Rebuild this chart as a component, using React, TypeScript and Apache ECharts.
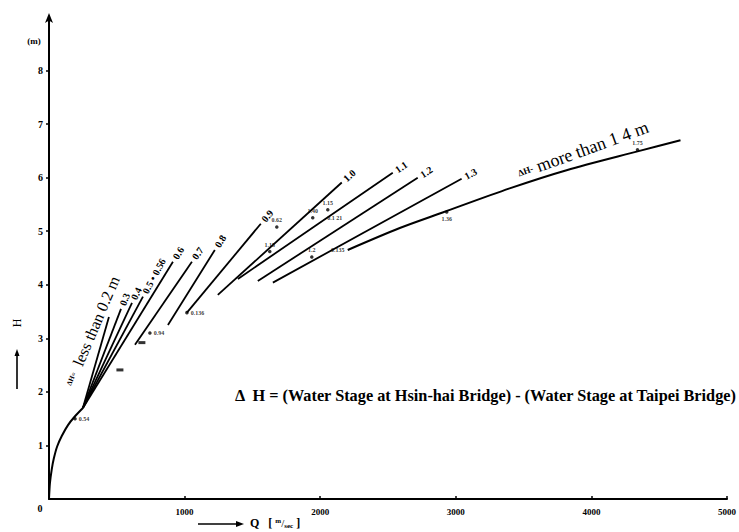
import React, { useEffect, useRef } from 'react';
import * as echarts from 'echarts';

// Stage–discharge rating: base curve below the junction, then one line per stage difference ΔH.
const mainQ = [0, 7, 20, 35, 60, 95, 140, 190, 250];
const mainH = [0, 0.3, 0.55, 0.75, 0.98, 1.18, 1.38, 1.54, 1.7];

const fanLabels = ['', '0.3', '0.4', '0.5 • 0.56', '0.6', '0.7', '0.8', '0.9', '1.0', '1.1', '1.2', '1.3'];
const fanStartQ = [250, 250, 250, 250, 250, 634, 877, 1017, 1245, 1393, 1540, 1651];
const fanStartH = [1.7, 1.7, 1.7, 1.7, 1.7, 2.88, 3.25, 3.48, 3.81, 4.11, 4.07, 4.04];
const fanEndQ = [442, 531, 612, 693, 914, 1054, 1223, 1562, 2159, 2535, 2719, 3043];
const fanEndH = [3.4, 3.55, 3.66, 3.78, 4.43, 4.43, 4.65, 5.14, 5.91, 6.09, 6.0, 5.98];

// ΔH more than 1.4 m
const upperQ = [2203, 2587, 2903, 3397, 3817, 4355, 4657];
const upperH = [4.65, 5.06, 5.35, 5.8, 6.14, 6.5, 6.7];

// Observed points with their ΔH notes
const obsQ = [192, 744, 1017, 1680, 1628, 1945, 2056, 1938, 2933, 4340];
const obsH = [1.5, 3.1, 3.48, 5.08, 4.62, 5.25, 5.4, 4.52, 5.36, 6.52];
const obsText = ['0.54', '0.94', '0.136', '0.62', '1.15', '1.40', '1.15', '1.2', '1.36', '1.75'];

// Notes without their own marker
const noteQ = [2108, 2130];
const noteH = [5.24, 4.65];
const noteText = ['0.1 21', '0.135'];

// Short dash marks on the fan
const dashQ = [523, 685];
const dashH = [2.41, 2.92];

const xTickValues = [1000, 2000, 3000, 4000, 5000];
const yTickValues = [1, 2, 3, 4, 5, 6, 7, 8];

const SERIF = '"Liberation Serif", "DejaVu Serif", serif';
const obsLabelPlace = ['right', 'right', 'right', 'top', 'top', 'top', 'top', 'top', 'bottom', 'top'];

export default function App() {
  const ref = useRef<HTMLDivElement>(null);

  useEffect(() => {
    document.body.style.margin = '0';
    const chart = echarts.init(ref.current!, null, { renderer: 'svg' });

    const tiny = { fontSize: 6, fontWeight: 'bold', fontFamily: SERIF, color: '#000' };
    const lineStyle = { color: '#000', width: 1.8 };
    const series: any[] = [
      {
        type: 'line',
        data: mainQ.map((q, i) => [q, mainH[i]]),
        smooth: 0.3,
        symbol: 'none',
        lineStyle: { color: '#000', width: 2 },
      },
      ...fanStartQ.map((q, i) => ({
        type: 'line',
        data: [
          [q, fanStartH[i]],
          [fanEndQ[i], fanEndH[i]],
        ],
        symbol: 'none',
        lineStyle,
      })),
      {
        type: 'line',
        data: upperQ.map((q, i) => [q, upperH[i]]),
        smooth: 0.3,
        symbol: 'none',
        lineStyle: { color: '#000', width: 2 },
      },
      {
        type: 'scatter',
        data: obsQ.map((q, i) => ({
          value: [q, obsH[i]],
          name: obsText[i],
          label: { position: obsLabelPlace[i] },
        })),
        symbol: 'circle',
        symbolSize: 3.5,
        itemStyle: { color: '#000' },
        label: { show: true, formatter: (p: any) => p.name, distance: 2, ...tiny },
      },
      {
        type: 'scatter',
        data: noteQ.map((q, i) => ({ value: [q, noteH[i]], name: noteText[i] })),
        symbolSize: 0,
        label: { show: true, formatter: (p: any) => p.name, position: 'inside', ...tiny },
      },
      {
        type: 'scatter',
        data: dashQ.map((q, i) => [q, dashH[i]]),
        symbol: 'rect',
        symbolSize: [7, 3],
        itemStyle: { color: '#000' },
      },
    ];

    chart.setOption({
      animation: false,
      backgroundColor: '#fff',
      grid: { left: 49, right: 11, top: 17, bottom: 33, containLabel: false },
      xAxis: {
        type: 'value',
        min: 0,
        max: 5000,
        interval: 1000,
        axisLine: { lineStyle: { color: '#000', width: 2 } },
        axisTick: { inside: true, length: 3, lineStyle: { color: '#000', width: 1.5 } },
        axisLabel: {
          customValues: xTickValues,
          formatter: (v: number) => String(v),
          color: '#000',
          fontFamily: SERIF,
          fontWeight: 'bold',
          fontSize: 9,
          margin: 8,
        },
        splitLine: { show: false },
      },
      yAxis: {
        type: 'value',
        min: 0,
        max: 9,
        interval: 1,
        axisLine: {
          show: true,
          symbol: ['none', 'arrow'],
          symbolSize: [6, 10],
          symbolOffset: [0, 4],
          lineStyle: { color: '#000', width: 2 },
        },
        axisTick: { show: true, customValues: yTickValues, length: 3, lineStyle: { color: '#000', width: 1.5 } },
        axisLabel: {
          customValues: yTickValues,
          formatter: (v: number) => String(v),
          color: '#000',
          fontFamily: SERIF,
          fontWeight: 'bold',
          fontSize: 10,
          margin: 6,
        },
        splitLine: { show: false },
      },
      series,
    });

    // Labels at the upper end of each fan line, turned along the line
    const endLabels: any[] = [];
    fanStartQ.forEach((q, i) => {
      if (!fanLabels[i]) return;
      const p0 = chart.convertToPixel({ gridIndex: 0 }, [q, fanStartH[i]]) as number[];
      const p1 = chart.convertToPixel({ gridIndex: 0 }, [fanEndQ[i], fanEndH[i]]) as number[];
      const dx = p1[0] - p0[0];
      const dy = p1[1] - p0[1];
      const len = Math.hypot(dx, dy);
      endLabels.push({
        type: 'text',
        x: p1[0] + (dx / len) * 4,
        y: p1[1] + (dy / len) * 4,
        rotation: Math.atan2(-dy, dx),
        style: {
          text: fanLabels[i],
          fill: '#000',
          fontSize: 10,
          fontWeight: 'bold',
          fontFamily: SERIF,
          align: 'left',
          verticalAlign: 'middle',
        },
      });
    });

    chart.setOption({
      graphic: [
        ...endLabels,
        {
          type: 'text',
          x: 92,
          y: 331,
          rotation: (67 * Math.PI) / 180,
          style: {
            text: '{s|ΔH=}  less than 0.2 m',
            fill: '#000',
            fontSize: 16,
            fontFamily: SERIF,
            align: 'center',
            verticalAlign: 'middle',
            rich: { s: { fontSize: 7, fontWeight: 'bold', fontFamily: SERIF, fill: '#000' } },
          },
        },
        {
          type: 'text',
          x: 583,
          y: 150,
          rotation: (20 * Math.PI) / 180,
          style: {
            text: '{s|ΔH-} more than 1 4 m',
            fill: '#000',
            fontSize: 18,
            fontFamily: SERIF,
            align: 'center',
            verticalAlign: 'middle',
            rich: { s: { fontSize: 9, fontWeight: 'bold', fontFamily: SERIF, fill: '#000' } },
          },
        },
        {
          type: 'text',
          x: 235,
          y: 395,
          style: {
            text: 'Δ  H = (Water Stage at Hsin-hai Bridge) - (Water Stage at Taipei Bridge)',
            fill: '#000',
            fontSize: 16.3,
            fontWeight: 'bold',
            fontFamily: SERIF,
            align: 'left',
            verticalAlign: 'middle',
          },
        },
        {
          type: 'text',
          x: 34,
          y: 41,
          style: { text: '(m)', fill: '#000', fontSize: 9, fontWeight: 'bold', fontFamily: SERIF, align: 'center', verticalAlign: 'middle' },
        },
        {
          type: 'text',
          x: 40,
          y: 508,
          style: { text: '0', fill: '#000', fontSize: 10, fontWeight: 'bold', fontFamily: SERIF, align: 'center', verticalAlign: 'middle' },
        },
        // Discharge axis title with its arrow
        { type: 'line', shape: { x1: 198, y1: 524, x2: 238, y2: 524 }, style: { stroke: '#000', lineWidth: 1.6 } },
        { type: 'polygon', shape: { points: [[236, 521], [244, 524], [236, 527]] }, style: { fill: '#000' } },
        {
          type: 'text',
          x: 250,
          y: 523,
          style: {
            text: 'Q   [ {sup|m}{sl|/}{sub|sec} ]',
            fill: '#000',
            fontSize: 12,
            fontWeight: 'bold',
            fontFamily: SERIF,
            align: 'left',
            verticalAlign: 'middle',
            rich: {
              sup: { fontSize: 7, fontWeight: 'bold', fontFamily: SERIF, fill: '#000', padding: [0, 0, 5, 0] },
              sl: { fontSize: 11, fontFamily: SERIF, fill: '#000' },
              sub: { fontSize: 7, fontWeight: 'bold', fontFamily: SERIF, fill: '#000', padding: [5, 0, 0, 0] },
            },
          },
        },
        // Stage axis title with its arrow
        { type: 'line', shape: { x1: 17, y1: 389, x2: 17, y2: 354 }, style: { stroke: '#000', lineWidth: 1.6 } },
        { type: 'polygon', shape: { points: [[14.5, 356], [17, 349], [19.5, 356]] }, style: { fill: '#000' } },
        {
          type: 'text',
          x: 17,
          y: 323,
          rotation: Math.PI / 2,
          style: { text: 'H', fill: '#000', fontSize: 12, fontFamily: SERIF, align: 'center', verticalAlign: 'middle' },
        },
      ],
    });

    return () => chart.dispose();
  }, []);

  return <div ref={ref} style={{ width: 739, height: 532 }} />;
}
